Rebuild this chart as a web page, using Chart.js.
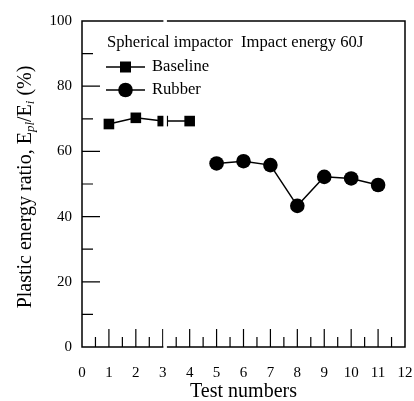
<!DOCTYPE html>
<html>
<head>
<meta charset="utf-8">
<script src="https://cdn.jsdelivr.net/npm/chart.js@4.4.0/dist/chart.umd.min.js"></script>
<style>
html,body{margin:0;padding:0;background:#fff;}
canvas{display:block;}
</style>
</head>
<body>
<canvas id="c" width="414" height="401"></canvas>
<script>
// ---- data ----
const baselineTests = [1, 2, 3, 4];
const baselineValues = [68.4, 70.3, 69.3, 69.3];
const rubberTests = [5, 6, 7, 8, 9, 10, 11];
const rubberValues = [56.3, 57.0, 55.8, 43.3, 52.2, 51.7, 49.7];
const xTickValues = [0, 1, 2, 3, 4, 5, 6, 7, 8, 9, 10, 11, 12];
const yTickValues = [0, 20, 40, 60, 80, 100];
const seriesNames = ['Baseline', 'Rubber'];
const legendTitle = 'Spherical impactor  Impact energy 60J';
const xTitle = 'Test numbers';
const breakAt = 3.08;

const FONT = '"Liberation Serif", "Times New Roman", serif';

function toPoints(xs, ys) { return xs.map((x, i) => ({ x: x, y: ys[i] })); }

function noPad(s) { s.paddingLeft = 0; s.paddingRight = 0; s.paddingTop = 0; s.paddingBottom = 0; }

const framePlugin = {
  id: 'frame',
  beforeDatasetsDraw(chart) {
    const ctx = chart.ctx, a = chart.chartArea;
    const xs = chart.scales.x, ys = chart.scales.y;
    ctx.save();
    ctx.strokeStyle = '#000';
    ctx.lineWidth = 1.5;
    ctx.beginPath();
    ctx.rect(a.left, a.top, a.right - a.left, a.bottom - a.top);
    ctx.stroke();
    ctx.lineWidth = 1.2;
    ctx.beginPath();
    for (let v = xs.min; v <= xs.max; v += 0.5) {
      if (v === xs.min || v === xs.max) continue;
      const px = xs.getPixelForValue(v);
      const len = Number.isInteger(v) ? 18 : 10;
      ctx.moveTo(px, a.bottom);
      ctx.lineTo(px, a.bottom - len);
    }
    for (let v = ys.min; v <= ys.max; v += 10) {
      if (v === ys.min || v === ys.max) continue;
      const py = ys.getPixelForValue(v);
      const len = (v % 20 === 0) ? 18 : 11;
      ctx.moveTo(a.left, py);
      ctx.lineTo(a.left + len, py);
    }
    ctx.stroke();
    ctx.restore();
  },
  afterDatasetsDraw(chart) {
    const ctx = chart.ctx, a = chart.chartArea;
    const xs = chart.scales.x, ys = chart.scales.y;
    const bx = xs.getPixelForValue(breakAt);
    ctx.save();
    ctx.fillStyle = '#fff';
    ctx.fillRect(bx - 1.5, a.top - 3, 3.5, 6);
    ctx.fillRect(bx - 1.5, a.bottom - 24, 3.5, 28);
    const py = ys.getPixelForValue(baselineValues[2]);
    ctx.fillRect(bx - 1.5, py - 10, 3.5, 20);
    ctx.restore();
  },
  afterDraw(chart) {
    const ctx = chart.ctx, a = chart.chartArea;
    ctx.save();
    ctx.fillStyle = '#000';
    ctx.textBaseline = 'middle';
    ctx.font = '16.6px ' + FONT;
    ctx.textAlign = 'left';
    ctx.fillText(legendTitle, 107, 43);
    const rows = [67, 90];
    chart.data.datasets.forEach((ds, i) => {
      const y = rows[i];
      ctx.strokeStyle = '#000';
      ctx.lineWidth = 1.5;
      ctx.beginPath();
      ctx.moveTo(106, y);
      ctx.lineTo(145, y);
      ctx.stroke();
      ctx.beginPath();
      if (ds.pointStyle === 'rect') {
        ctx.rect(120, y - 5.5, 11, 11);
      } else {
        ctx.arc(125.5, y, 7.3, 0, Math.PI * 2);
      }
      ctx.fill();
      ctx.font = '16.6px ' + FONT;
      ctx.fillText(ds.label, 152, y);
    });
    ctx.font = '20px ' + FONT;
    ctx.textAlign = 'center';
    ctx.fillText(xTitle, (a.left + a.right) / 2, 392);
    ctx.translate(26, 187);
    ctx.rotate(-Math.PI / 2);
    const main = '20px ' + FONT, subI = 'italic 13px ' + FONT;
    const parts = [
      { t: 'Plastic energy ratio, E', f: main, dy: 0 },
      { t: 'pl', f: subI, dy: 5 },
      { t: '/E', f: main, dy: 0 },
      { t: 'i', f: subI, dy: 5 },
      { t: ' (%)', f: main, dy: 0 }
    ];
    let total = 0;
    parts.forEach(p => { ctx.font = p.f; p.w = ctx.measureText(p.t).width; total += p.w; });
    let x = -total / 2;
    ctx.textAlign = 'left';
    parts.forEach(p => { ctx.font = p.f; ctx.fillText(p.t, x, p.dy); x += p.w; });
    ctx.restore();
  }
};

new Chart(document.getElementById('c'), {
  type: 'line',
  data: {
    datasets: [
      {
        label: seriesNames[0],
        data: toPoints(baselineTests, baselineValues),
        borderColor: '#000', backgroundColor: '#000', borderWidth: 1.5,
        pointStyle: 'rect', pointRadius: 7.5, pointBorderWidth: 0,
        tension: 0, fill: false
      },
      {
        label: seriesNames[1],
        data: toPoints(rubberTests, rubberValues),
        borderColor: '#000', backgroundColor: '#000', borderWidth: 1.5,
        pointStyle: 'circle', pointRadius: 7.3, pointBorderWidth: 0,
        tension: 0, fill: false
      }
    ]
  },
  options: {
    responsive: false,
    animation: false,
    events: [],
    layout: { padding: { left: 0, right: 9, top: 21, bottom: 0 } },
    plugins: { legend: { display: false }, tooltip: { enabled: false }, title: { display: false } },
    scales: {
      x: {
        type: 'linear', min: 0, max: 12,
        afterBuildTicks(s) { s.ticks = xTickValues.map(v => ({ value: v })); },
        afterFit(s) { s.height = 54; noPad(s); },
        grid: { display: false, drawTicks: false },
        border: { display: false },
        ticks: { padding: 17, color: '#000', font: { family: FONT, size: 15 }, maxRotation: 0, autoSkip: false }
      },
      y: {
        min: 0, max: 100,
        afterBuildTicks(s) { s.ticks = yTickValues.map(v => ({ value: v })); },
        afterFit(s) { s.width = 82; noPad(s); },
        grid: { display: false, drawTicks: false },
        border: { display: false },
        ticks: { padding: 10, color: '#000', font: { family: FONT, size: 15 } }
      }
    }
  },
  plugins: [framePlugin]
});
</script>
</body>
</html>
